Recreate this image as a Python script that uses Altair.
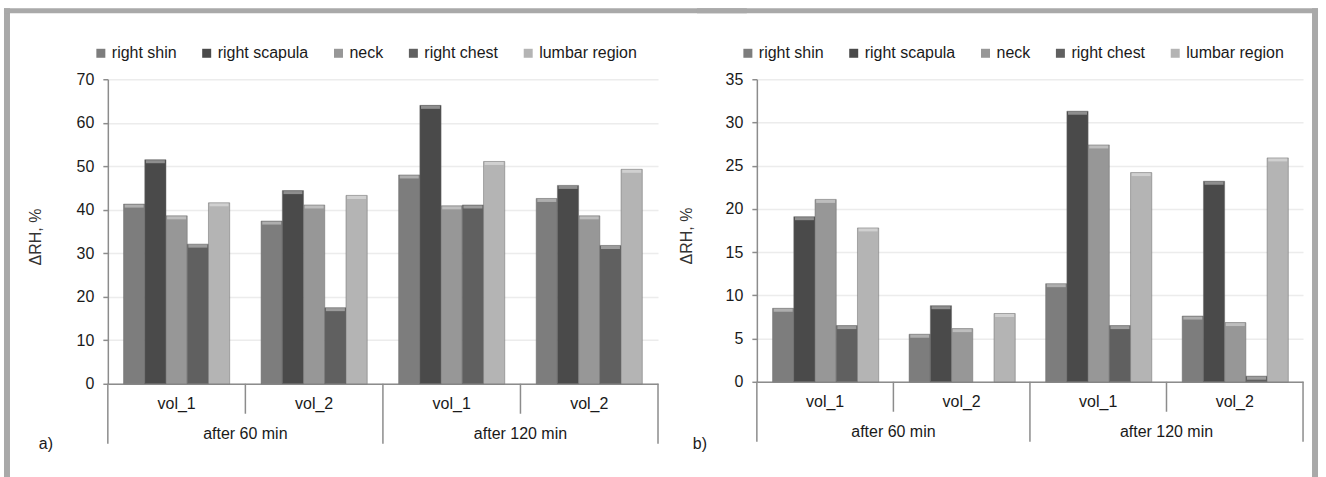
import altair as alt
import pandas as pd

# ---------------- data ----------------
series = ["right shin", "right scapula", "neck", "right chest", "lumbar region"]
series_colors = ["#7d7d7d", "#4a4a4a", "#979797", "#606060", "#b4b4b4"]

times = ["after 60 min", "after 60 min", "after 120 min", "after 120 min"]
vols = ["vol_1", "vol_2", "vol_1", "vol_2"]
group_labels = ["after 60 min", "after 120 min"]
group_centers = [1, 3]
outer_edges = [0, 2, 4]
inner_edges = [1, 3]

# panel a)
a_right_shin = [41.3, 37.4, 48.0, 42.6]
a_right_scapula = [51.5, 44.4, 64.0, 45.6]
a_neck = [38.6, 41.1, 40.9, 38.6]
a_right_chest = [32.1, 17.5, 41.1, 31.8]
a_lumbar_region = [41.6, 43.3, 51.1, 49.3]
a_ticks = [0, 10, 20, 30, 40, 50, 60, 70]

# panel b)
b_right_shin = [8.5, 5.5, 11.35, 7.6]
b_right_scapula = [19.1, 8.8, 31.3, 23.2]
b_neck = [21.1, 6.15, 27.4, 6.85]
b_right_chest = [6.5, 0.0, 6.5, 0.65]
b_lumbar_region = [17.8, 7.9, 24.2, 25.9]
b_ticks = [0, 5, 10, 15, 20, 25, 30, 35]

keys = [f"{t}|{v}" for t, v in zip(times, vols)]

FONT = "Liberation Sans"
GRAY = "#8c8c8c"
FRAME = "#a9a9a9"
TXT = "#1a1a1a"


def long_df(lists):
    rows = []
    for s, vals in zip(series, lists):
        for k, v in zip(keys, vals):
            rows.append({"grp": k, "series": s, "value": v})
    return pd.DataFrame(rows)


def frame_rect(x0, x1, y0, y1):
    one = pd.DataFrame({"f": [1]})
    return alt.Chart(one).mark_rect(color=FRAME).encode(
        x=alt.value(x0), x2=alt.value(x1), y=alt.value(y0), y2=alt.value(y1))


def panel(lists, ticks, width, height, legend_x, tag, tag_x, title_x, frames):
    df = long_df(lists)
    band = alt.Scale(domain=keys, paddingInner=0, paddingOuter=0)
    lin = alt.Scale(domain=[0, 4], nice=False, zero=False)
    xoff = alt.XOffset("series:N", scale=alt.Scale(domain=series, paddingInner=0, paddingOuter=0.74))
    yscale = alt.Scale(domain=[ticks[0], ticks[-1]], nice=False)

    bars = alt.Chart(df).transform_filter("datum.value > 0").mark_bar(
        stroke="#6a6a6a", strokeWidth=0.5).encode(
        x=alt.X("grp:N", scale=band,
                axis=alt.Axis(labels=False, ticks=False, title=None, grid=False,
                              domainColor=GRAY, domainWidth=1.5)),
        xOffset=xoff,
        y=alt.Y("value:Q", scale=yscale,
                axis=alt.Axis(values=ticks, title="ΔRH, %", titleX=title_x, titleY=height / 2 + 5,
                              titleAngle=-90, titleBaseline="middle", titleAlign="center",
                              titleFontWeight="normal", titleFontSize=16, titleColor="#333333",
                              labelFontSize=16, labelColor=TXT, labelPadding=9,
                              tickSize=5, tickColor=GRAY, tickWidth=1.5,
                              domainColor=GRAY, domainWidth=1.5,
                              gridColor="#ececec", gridWidth=1.5)),
        color=alt.Color("series:N", scale=alt.Scale(domain=series, range=series_colors),
                        legend=alt.Legend(orient="none", legendX=legend_x, legendY=-34,
                                          direction="horizontal", columns=5, title=None,
                                          symbolType="square", symbolSize=81, symbolStrokeWidth=0,
                                          labelFontSize=16, labelColor=TXT, labelOffset=3,
                                          columnPadding=22)),
    )

    caps = alt.Chart(df).transform_filter("datum.value > 0").mark_tick(
        thickness=3, size=19, color="white", opacity=0.38).encode(
        x=alt.X("grp:N", scale=band, axis=None),
        xOffset=xoff,
        y=alt.Y("value:Q", scale=yscale),
        yOffset=alt.value(2),
    )

    vol_text = alt.Chart(pd.DataFrame({"grp": keys, "vol": vols})).mark_text(
        fontSize=16, baseline="middle", color=TXT).encode(
        x=alt.X("grp:N", scale=band, axis=None),
        y=alt.value(height + 20),
        text="vol:N",
    )

    rules_outer = alt.Chart(pd.DataFrame({"pos": outer_edges})).mark_rule(
        color=GRAY, strokeWidth=1.5).encode(
        x=alt.X("pos:Q", scale=lin, axis=None),
        y=alt.value(height), y2=alt.value(height + 60),
    )
    rules_inner = alt.Chart(pd.DataFrame({"pos": inner_edges})).mark_rule(
        color=GRAY, strokeWidth=1.5).encode(
        x=alt.X("pos:Q", scale=lin, axis=None),
        y=alt.value(height), y2=alt.value(height + 30),
    )
    grp_text = alt.Chart(pd.DataFrame({"pos": group_centers, "label": group_labels})).mark_text(
        fontSize=16, baseline="middle", color=TXT).encode(
        x=alt.X("pos:Q", scale=lin, axis=None),
        y=alt.value(height + 50),
        text="label:N",
    )

    tag_text = alt.Chart(pd.DataFrame({"tag": [tag]})).mark_text(
        fontSize=16, baseline="middle", align="center", color=TXT).encode(
        x=alt.value(tag_x), y=alt.value(365), text="tag:N")

    layers = [bars, caps, vol_text, rules_outer, rules_inner, grp_text, tag_text]
    layers += [frame_rect(*f) for f in frames]
    return alt.layer(*layers).resolve_scale(x="independent").properties(width=width, height=height)


pa = panel([a_right_shin, a_right_scapula, a_neck, a_right_chest, a_lumbar_region], a_ticks,
           551, 305, -15, "a)", -62, -72,
           [(-104, -98, -71, 399), (-104, 640, -71, -66)])
pb = panel([b_right_shin, b_right_scapula, b_neck, b_right_chest, b_lumbar_region], b_ticks,
           547, 303, -17, "b)", -57, -70,
           [(-60, 562, -71, -66), (556, 562, -71, 399)])

chart = alt.hconcat(pa, pb, spacing=99, bounds="flush",
                    padding={"left": 3, "top": 7, "right": 7, "bottom": 0}).resolve_scale(
    color="independent", y="independent", x="independent").resolve_legend(color="independent").configure(
    font=FONT, background="white").configure_view(stroke="transparent")

chart.save("out.html", embed_options={"renderer": "svg", "actions": False})
